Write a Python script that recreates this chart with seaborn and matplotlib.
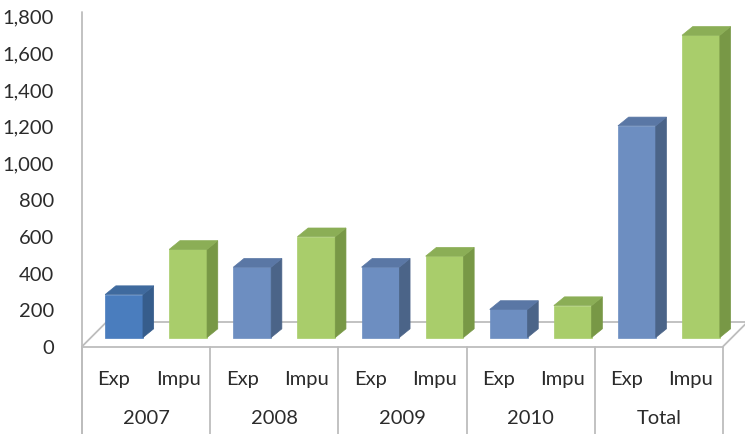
import matplotlib
matplotlib.use("Agg")
import matplotlib.pyplot as plt
import matplotlib.transforms as mtransforms
from matplotlib.lines import Line2D
from matplotlib.patches import Polygon
import seaborn as sns
import pandas as pd

# Data
years = ["2007", "2008", "2009", "2010", "Total"]
series = ["Exp", "Impu"]
exp_values = [234, 383, 383, 153, 1153]
impu_values = [480, 549, 443, 174, 1646]
y_ticks = [0, 200, 400, 600, 800, 1000, 1200, 1400, 1600, 1800]

rows = []
for i, yr in enumerate(years):
    rows.append({"key": f"{yr} Exp", "year": yr, "series": "Exp", "value": exp_values[i]})
    rows.append({"key": f"{yr} Impu", "year": yr, "series": "Impu", "value": impu_values[i]})
df = pd.DataFrame(rows)

# Face colours: front, side, top
blue_hi = ("#4A7DBE", "#365D8C", "#3F6A9E")
blue = ("#6D8EC1", "#4B6488", "#5A77A5")
green = ("#A9CD6B", "#789846", "#8BAE56")
face_sets = []
for i, yr in enumerate(years):
    face_sets.append(blue_hi if i == 0 else blue)
    face_sets.append(green)

sns.set_theme(style="white")
plt.rcParams["font.family"] = ["Lato", "DejaVu Sans"]

W, H = 745, 434
fig = plt.figure(figsize=(W / 100, H / 100), dpi=100)

# plot frame in pixels
x0, x1 = 82, 723
ybot, ytop = 347, 16.5
ax = fig.add_axes([x0 / W, (H - ybot) / H, (x1 - x0) / W, (ybot - ytop) / H])

sns.barplot(data=df, x="key", y="value", hue="key",
            palette=[f[0] for f in face_sets], width=0.59,
            legend=False, ax=ax, saturation=1, zorder=3)

ax.set_xlim(-0.5, len(df) - 0.5)
ax.set_ylim(0, 1800)
for s in ax.spines.values():
    s.set_visible(False)
ax.set_xlabel("")
ax.set_ylabel("")
ax.set_xticks([])
ax.set_yticks(y_ticks)
ax.set_yticklabels([f"{v:,}" for v in y_ticks], fontsize=14.5, color="#2B2B2B")
ax.tick_params(axis="y", length=0, pad=20)
ax.patch.set_alpha(0)

fig.canvas.draw()

# 3D look: front faces pushed back into the floor, with side and top faces
shift = mtransforms.ScaledTranslation(10 / 100, 9.5 / 100, fig.dpi_scale_trans)
ddx, ddy = 10.7, 8.7
inv = ax.transData.inverted()
for patch, faces in zip(ax.patches, face_sets):
    tr = ax.transData + shift
    patch.set_transform(tr)
    patch.set_edgecolor(faces[0])
    patch.set_linewidth(0.5)
    bx, bw, bh = patch.get_x(), patch.get_width(), patch.get_height()
    (xl, yb), (xr, yt) = tr.transform([(bx, 0), (bx + bw, bh)])
    side = [(xr, yb), (xr, yt), (xr + ddx, yt + ddy), (xr + ddx, yb + ddy)]
    top = [(xl, yt), (xr, yt), (xr + ddx, yt + ddy), (xl + ddx, yt + ddy)]
    ax.add_patch(Polygon(inv.transform(side), closed=True, facecolor=faces[1],
                         edgecolor=faces[1], lw=0.5, zorder=3, clip_on=False))
    ax.add_patch(Polygon(inv.transform(top), closed=True, facecolor=faces[2],
                         edgecolor=faces[2], lw=0.5, zorder=3, clip_on=False))

grid_c = "#BDBDBD"


def px(x, y):
    return x / W, (H - y) / H


def fig_line(xa, ya, xb, yb, z=1):
    (fa, ga), (fb, gb) = px(xa, ya), px(xb, yb)
    fig.add_artist(Line2D([fa, fb], [ga, gb], color=grid_c, lw=1.3,
                          zorder=z, transform=fig.transFigure))


# floor outline and value axis
fig_line(x0, 12, x0, H)
fig_line(x0, 346.5, x1, 346.5, z=4)
fig_line(x0, 346.5, x0 + 25, 321.5, z=0)
fig_line(x0 + 25, 321.5, W + 5, 321.5, z=0)
fig_line(x1, 346.5, x1 + 25, 321.5, z=4)

# category table below the floor
group_w = (x1 - x0) / len(years)
for g in range(len(years) + 1):
    xs = x0 + g * group_w
    fig_line(xs, 346.5, xs, H)

label_kw = dict(fontsize=14.5, color="#2B2B2B", ha="center", va="center")
for i, row in df.iterrows():
    fx, fy = px(x0 + (i + 0.5) * (x1 - x0) / len(df), 380)
    fig.text(fx, fy, row["series"], **label_kw)
for g, yr in enumerate(years):
    fx, fy = px(x0 + (g + 0.5) * group_w, 418)
    fig.text(fx, fy, yr, **label_kw)

fig.savefig("out.png", dpi=100)
